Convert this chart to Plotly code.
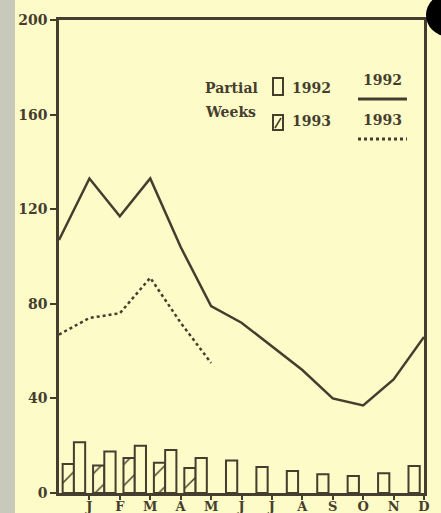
import plotly.graph_objects as go

months = ["J", "F", "M", "A", "M", "J", "J", "A", "S", "O", "N", "D"]
month_pos = [1, 2, 3, 4, 5, 6, 7, 8, 9, 10, 11, 12]
line_x_1992 = [0, 1, 2, 3, 4, 5, 6, 7, 8, 9, 10, 11, 12]
line_1992 = [107, 133, 117, 133, 104, 79, 72, 62, 52, 40, 37, 48, 66]
line_x_1993 = [0, 1, 2, 3, 4, 5]
line_1993 = [67, 74, 76, 91, 72, 55]
bar_x = [0.5, 1.5, 2.5, 3.5, 4.5, 5.5, 6.5, 7.5, 8.5, 9.5, 10.5, 11.5]
weeks_1992 = [21.5, 17.5, 20, 18.2, 14.8, 13.7, 11, 9.3, 7.9, 7.2, 8.3, 11.4]
weeks_1993 = [12.3, 11.6, 14.8, 12.8, 10.6]
y_ticks = [0, 40, 80, 120, 160, 200]

BG = "#FDFBC8"
INK = "#453d2e"
FONT = "DejaVu Serif"

W, H = 441, 513
ML, MR, MT, MB = 59, 17, 20, 20
PW, PH = W - ML - MR, H - MT - MB


def px(x):
    return (x - ML) / PW


def py(y):
    return (H - MB - y) / PH


fig = go.Figure()

fig.add_trace(go.Bar(
    x=bar_x[:len(weeks_1993)], y=weeks_1993, width=0.37, offset=-0.38,
    marker=dict(color=BG, line=dict(color=INK, width=2),
                pattern=dict(shape="/", size=15, solidity=0.1, fgcolor=INK,
                             bgcolor=BG, fgopacity=1)),
    showlegend=False, hoverinfo="skip"))
fig.add_trace(go.Bar(
    x=bar_x, y=weeks_1992, width=0.37, offset=-0.01,
    marker=dict(color=BG, line=dict(color=INK, width=2)),
    showlegend=False, hoverinfo="skip"))
fig.add_trace(go.Scatter(
    x=line_x_1992, y=line_1992, mode="lines",
    line=dict(color=INK, width=2.5), showlegend=False, hoverinfo="skip"))
fig.add_trace(go.Scatter(
    x=line_x_1993, y=line_1993, mode="lines",
    line=dict(color=INK, width=2.5, dash="dot"), showlegend=False, hoverinfo="skip"))

shapes = []
# grey strip on left
shapes.append(dict(type="rect", xref="paper", yref="paper", x0=px(-2), x1=px(15),
                   y0=py(H + 2), y1=py(-2), fillcolor="#c9c9bb", line=dict(width=0), layer="below"))
# black circle top right
shapes.append(dict(type="circle", xref="paper", yref="paper", x0=px(426), x1=px(468),
                   y0=py(36), y1=py(-6), fillcolor="#000000", line=dict(width=0)))
# legend boxes
shapes.append(dict(type="rect", xref="paper", yref="paper", x0=px(273), x1=px(283),
                   y0=py(95), y1=py(78), line=dict(color=INK, width=2), fillcolor=BG))
shapes.append(dict(type="rect", xref="paper", yref="paper", x0=px(273), x1=px(283),
                   y0=py(130), y1=py(115), line=dict(color=INK, width=2), fillcolor=BG))
shapes.append(dict(type="line", xref="paper", yref="paper", x0=px(275), x1=px(281),
                   y0=py(128), y1=py(118), line=dict(color=INK, width=1.5)))
shapes.append(dict(type="line", xref="paper", yref="paper", x0=px(358), x1=px(407),
                   y0=py(99), y1=py(99), line=dict(color=INK, width=3)))
shapes.append(dict(type="line", xref="paper", yref="paper", x0=px(358), x1=px(407),
                   y0=py(139), y1=py(139), line=dict(color=INK, width=3, dash="dot")))

ann = []


def label(text, x, y, anchor="left"):
    ann.append(dict(text=text, xref="paper", yref="paper", x=px(x), y=py(y),
                    xanchor=anchor, yanchor="middle", showarrow=False,
                    font=dict(family=FONT, size=14, color=INK, weight="bold")))


label("Partial", 203, 88)
label("Weeks", 203, 112)
label("1992", 290, 88)
label("1993", 290, 121)
label("1992", 382, 80, "center")
label("1993", 382, 120, "center")

fig.update_layout(
    width=W, height=H, autosize=False,
    margin=dict(l=ML, r=MR, t=MT, b=MB, pad=0),
    paper_bgcolor=BG, plot_bgcolor=BG,
    barmode="overlay",
    shapes=shapes, annotations=ann,
    xaxis=dict(range=[0, 12], tickvals=month_pos, ticktext=months, automargin=False,
               showgrid=False, zeroline=False, showline=True, mirror=True,
               linecolor=INK, linewidth=2.5, ticks="outside", ticklen=4,
               tickwidth=2, tickcolor=INK, ticklabelstandoff=-4,
               tickfont=dict(family=FONT, size=13, color=INK, weight="bold")),
    yaxis=dict(range=[0, 200], tickvals=y_ticks, automargin=False,
               showgrid=False, zeroline=False, showline=True, mirror=True,
               linecolor=INK, linewidth=2.5, ticks="outside", ticklen=6,
               tickwidth=2, tickcolor=INK,
               tickfont=dict(family=FONT, size=14, color=INK, weight="bold")),
)

fig.write_html("out.html", config={"displayModeBar": False, "responsive": False},
               post_script="document.body.style.margin='0';document.body.style.background='%s';document.documentElement.style.background='%s';" % (BG, BG))
